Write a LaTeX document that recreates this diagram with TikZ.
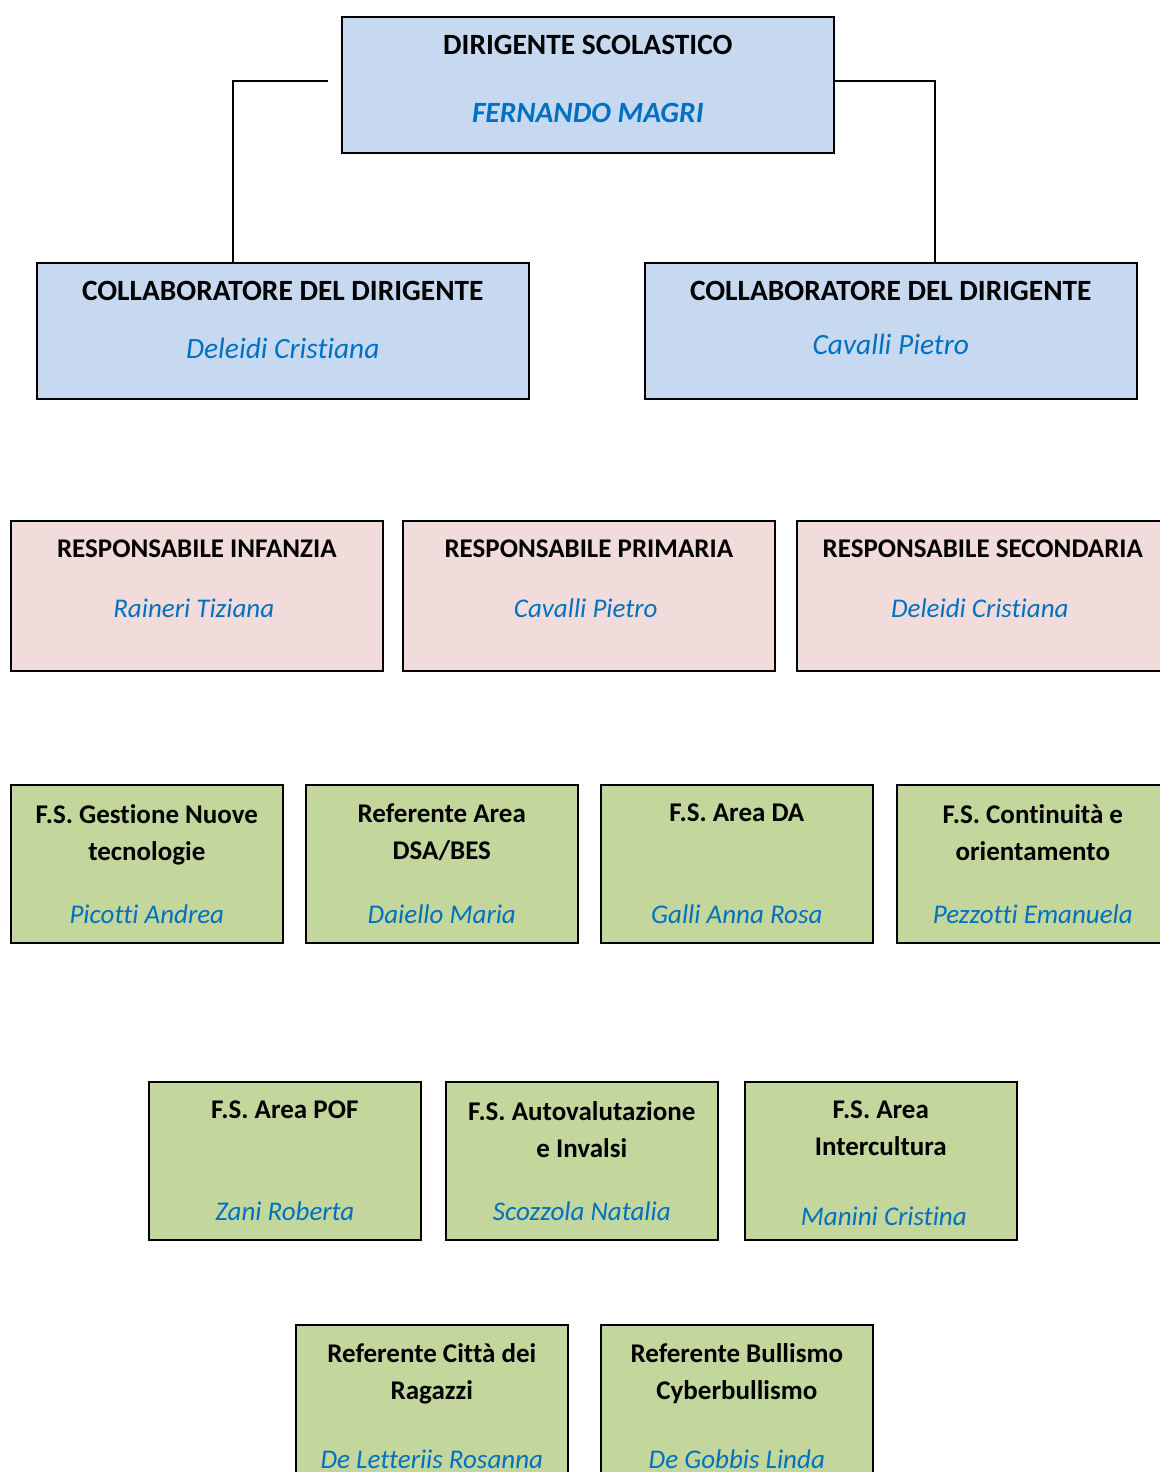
\documentclass[tikz,border=0pt]{standalone}
\usepackage{fontspec}
\setmainfont[Ligatures=NoCommon]{Carlito}
\usepackage{tikz}
\usetikzlibrary{positioning}
\usepackage{xcolor}
\definecolor{azzurro}{HTML}{C6D9F1}
\definecolor{rosa}{HTML}{F2DCDB}
\definecolor{verde}{HTML}{C3D69B}
\definecolor{blu}{HTML}{0070C0}

\begin{document}
\begin{tikzpicture} [
      x = 1pt, y = 1pt,
      ruolo/.style = { draw, line width = 1.6pt, anchor = north west, inner sep = 0, minimum height = #1 },
      ruolo/.default = 158pt,
      largo/.style = { ruolo = 136pt, minimum width = 492pt, fill = azzurro },
      resp/.style = { ruolo = 150pt, minimum width = 372pt, fill = rosa },
      fs/.style = { ruolo = 158pt, minimum width = 272pt, fill = verde },
      titolo/.style = { anchor = base, inner sep = 0, align = center, font = \fontsize{27}{37}\selectfont\bfseries },
      nome/.style = { anchor = base, inner sep = 0, text = blu, font = \fontsize{27}{32}\selectfont\itshape },
      grande/.style = { font = \fontsize{29.4}{35}\selectfont#1 },
      linea/.style = { line width = 1.8pt }
      ]
  \useasboundingbox (0,0) rectangle (1159,-1472);

  % dirigente e collaboratori
  \node [largo] (dir) at (341,-16) {};
  \node [titolo, grande = \bfseries] (dirT) at ([yshift=-38.5]dir.north) {DIRIGENTE SCOLASTICO};
  \node [nome, grande = \bfseries\itshape] (dirN) at ([yshift=-106]dir.north) {FERNANDO MAGRI};

  \node [largo] (col1) at (36,-262) {};
  \node [titolo, grande = \bfseries] (col1T) at ([yshift=-38]col1.north) {COLLABORATORE DEL DIRIGENTE};
  \node [nome, grande = \itshape] (col1N) at ([yshift=-96]col1.north) {Deleidi Cristiana};

  \node [largo] (col2) at (644,-262) {};
  \node [titolo, grande = \bfseries] (col2T) at ([yshift=-38]col2.north) {COLLABORATORE DEL DIRIGENTE};
  \node [nome, grande = \itshape] (col2N) at ([yshift=-92]col2.north) {Cavalli Pietro};

  \coordinate (dirL) at ([xshift=-13pt, yshift=4pt]dir.west);
  \draw [linea] (dirL) -| ([xshift=-50pt]col1.north);
  \draw [linea] ([yshift=4pt]dir.east) -| ([xshift=44pt]col2.north);

  % responsabili di plesso
  \node [resp] (inf) at (10,-520) {};
  \node [resp] (pri) at (402,-520) {};
  \node [resp] (sec) at (796,-520) {};
  \foreach \b/\t/\n in {inf/RESPONSABILE INFANZIA/Raineri Tiziana,
                        pri/RESPONSABILE PRIMARIA/Cavalli Pietro,
                        sec/RESPONSABILE SECONDARIA/Deleidi Cristiana} {
    \node [titolo] (\b T) at ([yshift=-37]\b.north) {\t};
    \node [nome] (\b N) at ([xshift=-3pt, yshift=-97]\b.north) {\n};
  }

  % funzioni strumentali e referenti
  \node [fs] (tec) at (10,-784) {};
  \node [fs] (dsa) at (305,-784) {};
  \node [fs] (da) at (600,-784) {};
  \node [fs] (con) at (896,-784) {};
  \node [fs] (pof) at (148,-1081) {};
  \node [fs] (aut) at (445,-1081) {};
  \node [fs] (int) at (744,-1081) {};
  \node [fs] (cit) at (295,-1324) {};
  \node [fs] (bul) at (600,-1324) {};

  \foreach \b/\t/\n in {tec/{F.S. Gestione Nuove\\tecnologie}/Picotti Andrea,
                        dsa/{Referente Area\\DSA/BES}/Daiello Maria,
                        da/{F.S. Area DA}/Galli Anna Rosa,
                        con/{F.S. Continuità e\\orientamento}/Pezzotti Emanuela,
                        pof/{F.S. Area POF}/Zani Roberta,
                        aut/{F.S. Autovalutazione\\e Invalsi}/Scozzola Natalia} {
    \node [titolo, anchor = north] (\b T) at ([yshift=-20]\b.north) {\t};
    \node [nome] (\b N) at ([yshift=-139]\b.north) {\n};
  }
  \node [titolo, anchor = north] (intT) at ([yshift=-20]int.north) {F.S. Area\\Intercultura};
  \node [nome] (intN) at ([xshift=3pt, yshift=-144]int.north) {Manini Cristina};
  \foreach \b/\t/\n in {cit/{Referente Città dei\\Ragazzi}/De Letteriis Rosanna,
                        bul/{Referente Bullismo\\Cyberbullismo}/De Gobbis Linda} {
    \node [titolo, anchor = north] (\b T) at ([yshift=-19]\b.north) {\t};
    \node [nome] (\b N) at ([yshift=-144]\b.north) {\n};
  }
\end{tikzpicture}
\end{document}
